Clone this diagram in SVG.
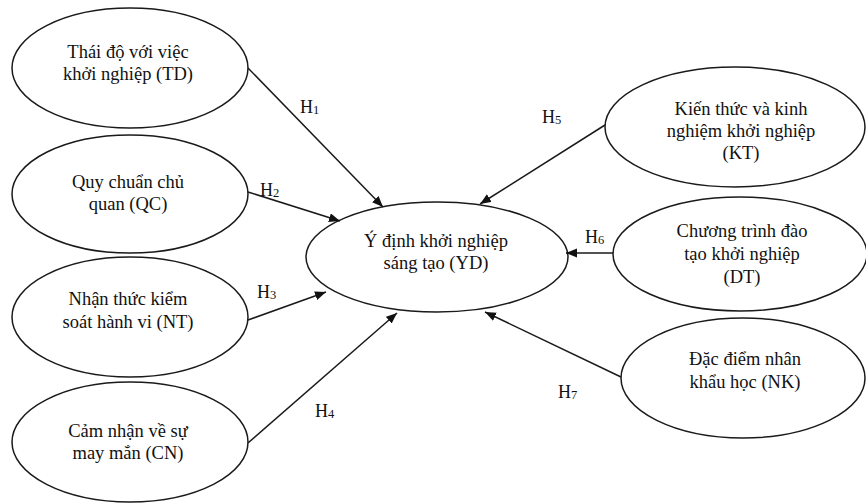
<svg xmlns="http://www.w3.org/2000/svg" width="866" height="504" viewBox="0 0 866 504">
<style>
.n{fill:#fff;stroke:#1a1a1a;stroke-width:1.5}
.t{font-family:"Liberation Serif","Times New Roman",serif;font-size:18.5px;fill:#111;text-anchor:middle}
.h{font-family:"Liberation Serif","Times New Roman",serif;font-size:18px;fill:#111}
.s{font-size:12.5px}
.c{stroke:#1a1a1a;stroke-width:1.5;fill:none;marker-end:url(#a)}
</style>
<defs>
<marker id="a" markerUnits="userSpaceOnUse" markerWidth="12" markerHeight="10" refX="11" refY="4.5" orient="auto">
<path d="M0,0 L11,4.5 L0,9 z" fill="#111"/>
</marker>
</defs>
<rect width="866" height="504" fill="#fff"/>
<g id="TD"><ellipse class="n" cx="130" cy="68" rx="118" ry="60"/><text class="t" x="128" y="58">Thái độ với việc</text><text class="t" x="128" y="80">khởi nghiệp (TD)</text></g>
<g id="QC"><ellipse class="n" cx="130" cy="194" rx="118" ry="59"/><text class="t" x="128" y="188">Quy chuẩn chủ</text><text class="t" x="128" y="210">quan (QC)</text></g>
<g id="NT"><ellipse class="n" cx="130" cy="317" rx="118" ry="60"/><text class="t" x="128" y="305">Nhận thức kiểm</text><text class="t" x="128" y="328">soát hành vi (NT)</text></g>
<g id="CN"><ellipse class="n" cx="130" cy="442" rx="118" ry="60"/><text class="t" x="128" y="437">Cảm nhận về sự</text><text class="t" x="128" y="459">may mắn (CN)</text></g>
<g id="YD"><ellipse class="n" cx="437" cy="257" rx="131" ry="55"/><text class="t" x="436" y="247">Ý định khởi nghiệp</text><text class="t" x="436" y="269">sáng tạo (YD)</text></g>
<g id="KT"><ellipse class="n" cx="735" cy="127" rx="130" ry="60"/><text class="t" x="741" y="115">Kiến thức và kinh</text><text class="t" x="741" y="137">nghiệm khởi nghiệp</text><text class="t" x="741" y="159">(KT)</text></g>
<g id="DT"><ellipse class="n" cx="740" cy="254" rx="127" ry="57"/><text class="t" x="742" y="237">Chương trình đào</text><text class="t" x="742" y="260">tạo khởi nghiệp</text><text class="t" x="742" y="283">(DT)</text></g>
<g id="NK"><ellipse class="n" cx="743" cy="378" rx="122" ry="60"/><text class="t" x="745" y="365">Đặc điểm nhân</text><text class="t" x="745" y="388">khẩu học (NK)</text></g>
<g id="connectors">
<line class="c" x1="248" y1="68" x2="383" y2="207"/>
<line class="c" x1="248" y1="192" x2="340" y2="221"/>
<line class="c" x1="248" y1="320" x2="326" y2="292"/>
<line class="c" x1="248" y1="443" x2="397" y2="313"/>
<line class="c" x1="605" y1="125" x2="480" y2="204"/>
<line class="c" x1="613" y1="253" x2="566" y2="253"/>
<line class="c" x1="621" y1="377" x2="485" y2="312"/>
<text class="h" x="300" y="113">H<tspan class="s" dy="1">1</tspan></text>
<text class="h" x="260" y="196">H<tspan class="s" dy="1">2</tspan></text>
<text class="h" x="257" y="298">H<tspan class="s" dy="1">3</tspan></text>
<text class="h" x="315" y="417">H<tspan class="s" dy="1">4</tspan></text>
<text class="h" x="542" y="123">H<tspan class="s" dy="1">5</tspan></text>
<text class="h" x="585" y="243">H<tspan class="s" dy="1">6</tspan></text>
<text class="h" x="558" y="398">H<tspan class="s" dy="1">7</tspan></text>
</g>
</svg>
